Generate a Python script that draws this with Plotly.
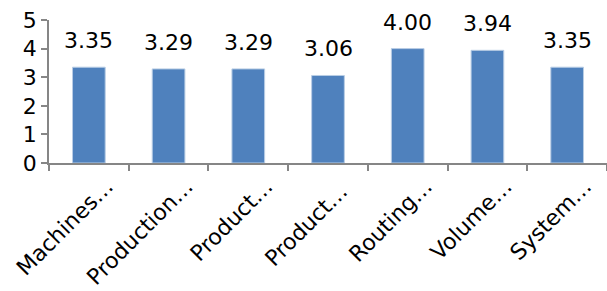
import plotly.graph_objects as go

categories = ["Machines…", "Production…", "Product…", "Product… ", "Routing…", "Volume…", "System…"]
values = [3.35, 3.29, 3.29, 3.06, 4.00, 3.94, 3.35]
value_labels = ["3.35", "3.29", "3.29", "3.06", "4.00", "3.94", "3.35"]
y_ticks = [0, 1, 2, 3, 4, 5]

FONT = "DejaVu Sans"
SIZE = 22
fig = go.Figure()
fig.add_trace(go.Bar(
    x=categories, y=values,
    marker=dict(color="#4F81BD", line=dict(color="#B9CDE5", width=1)),
    width=0.41, hoverinfo="skip",
))
for c, v, t in zip(categories, values, value_labels):
    fig.add_annotation(x=c, y=v, text=t, showarrow=False, yanchor="bottom",
                       yshift=12, font=dict(family=FONT, size=SIZE, color="black"))

fig.update_layout(
    width=607, height=291,
    margin=dict(l=49, r=0, t=20, b=128),
    paper_bgcolor="white", plot_bgcolor="white",
    showlegend=False,
    font=dict(family=FONT, size=SIZE, color="black"),
)
fig.update_xaxes(
    automargin=False,
    showline=True, linecolor="#868686", linewidth=1.5,
    ticks="outside", ticklen=6, tickcolor="#868686", tickwidth=1.5,
    tickson="boundaries", tickangle=-45, showgrid=False,
    ticklabelshift=18, ticklabelstandoff=0,
    tickfont=dict(family=FONT, size=SIZE),
)
fig.update_yaxes(
    automargin=False,
    range=[0, 5], tickvals=y_ticks, showline=True, linecolor="#868686", linewidth=1.5,
    ticks="outside", ticklen=6, tickcolor="#868686", tickwidth=1.5,
    showgrid=False, zeroline=False, tickfont=dict(family=FONT, size=SIZE),
)
fig.write_html("out.html", config={"displayModeBar": False},
               post_script="document.body.style.margin='0';document.body.style.overflow='hidden';")
